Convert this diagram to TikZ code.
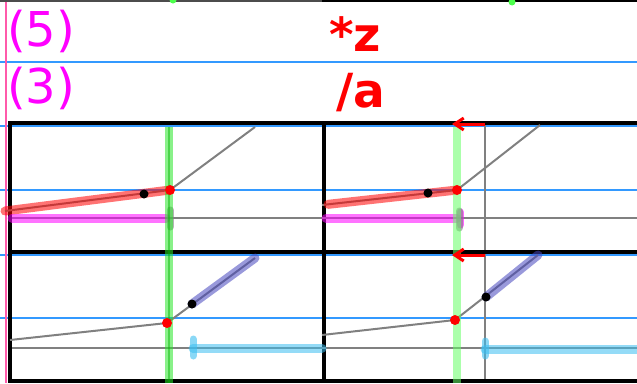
\documentclass[tikz,border=0pt]{standalone}
\usepackage{fontspec}
\setmainfont{DejaVu Sans}
\usepackage{xcolor}
\usepackage{tikz}
\usetikzlibrary{calc, arrows.meta}

\definecolor{guideblue}{RGB}{51,153,255}
\definecolor{marginpink}{RGB}{255,90,170}
\definecolor{pmag}{RGB}{255,0,255}
\definecolor{pred}{RGB}{255,0,0}
\definecolor{bandblue}{RGB}{70,70,190}
\definecolor{bandcyan}{RGB}{60,190,240}
\definecolor{pgreen}{RGB}{40,230,40}

\begin{document}
\begin{tikzpicture}[x=1pt, y=-1pt,
  guide/.style={guideblue, line width=1.5pt},
  frame/.style={black, line width=4.5pt},
  curve/.style={gray, line width=2pt},
  band/.style={line width=9pt, line cap=round, opacity=.55},
  tick/.style={line width=7pt, line cap=round, opacity=.6},
  cutline/.style={pgreen, line width=8pt, opacity=.55},
  shiftarrow/.style={pred, line width=3pt, -{Straight Barb[length=9pt,width=12pt]}},
  bigtext/.style={font=\fontsize{48}{56}\selectfont, inner sep=0pt, anchor=base west}]
  \useasboundingbox (0,0) rectangle (637,383);

  % guide lines and margin
  \foreach \y in {62,126,190,255,318}
    \draw[guide] (0,\y) -- (637,\y);
  \draw[marginpink, line width=2.5pt] (6,0) -- (6,383);
  \draw[gray!60!black, line width=2pt] (0,1) -- (322,1);
  \draw[black, line width=2pt] (322,1) -- (637,1);
  \fill[green!70] (173,0) circle (3.5);
  \fill[green!70] (512,2) circle (3.5);

  % labels
  \node[bigtext, pmag] (five) at (7,46) {(5)};
  \node[bigtext, pmag] (three) at (7,103) {(3)};
  \node[bigtext, pred, font=\fontsize{47}{56}\selectfont\bfseries] (opz) at (329,51) {*z};
  \node[bigtext, pred, font=\fontsize{47}{56}\selectfont\bfseries] (opa) at (336,107) {/a};

  % points of the curves
  \coordinate (a1) at (5,211);   \coordinate (k1) at (170,190);
  \coordinate (b1) at (144,194); \coordinate (e1) at (255,127);
  \coordinate (a2) at (322,205); \coordinate (k2) at (457,190);
  \coordinate (b2) at (428,193); \coordinate (e2) at (540,125);
  \coordinate (a3) at (10,340);  \coordinate (k3) at (167,323);
  \coordinate (b3) at (192,304); \coordinate (e3) at (255,258);
  \coordinate (a4) at (322,335); \coordinate (k4) at (455,320);
  \coordinate (b4) at (486,297); \coordinate (e4) at (538,255);

  % right hand cut
  \draw[gray, line width=1.5pt] (485,124) -- (485,383);

  % frames
  \draw[frame] (10,381) -- (10,123) -- (637,123);
  \draw[frame] (8,252) -- (637,252);
  \draw[frame] (8,381) -- (637,381);
  \draw[frame] (324,123) -- (324,383);

  % curves
  \draw[curve] (a1) -- (k1) -- (e1);
  \draw[curve] (a2) -- (k2) -- (e2);
  \draw[curve] (a3) -- (k3) -- (e3);
  \draw[curve] (a4) -- (k4) -- (e4);
  \draw[curve] (12,218) -- (637,218);
  \draw[curve] (12,348) -- (637,348);

  % bands
  \draw[band, pred] (a1) -- (k1);
  \draw[band, pred] ($(a2)!.045!(k2)$) -- (k2);
  \draw[band, pmag] (12,218) -- (166,218);
  \draw[band, pmag] (326,218) -- (457,218);
  \draw[tick, pmag] (460,212) -- (460,225);
  \draw[tick, gray] (170,210) -- (170,227);
  \draw[tick, gray] (459,211) -- (459,228);
  \draw[band, bandblue] (b3) -- (e3);
  \draw[band, bandblue] (b4) -- (e4);
  \draw[band, bandcyan] (193,348) -- (322,348);
  \draw[band, bandcyan] (485,349) -- (637,349);
  \draw[tick, bandcyan] (193,339) -- (193,356);
  \draw[tick, bandcyan] (485,341) -- (485,356);

  % vertical cuts
  \draw[cutline] (169,127) -- (169,383);
  \draw[green!70!black, line width=2.5pt, opacity=.45] (169,127) -- (169,383);
  \draw[cutline, green!60] (457,127) -- (457,383);

  % shifts
  \draw[shiftarrow] (485,124) -- (452,124);
  \draw[shiftarrow] (485,255) -- (452,255);

  % dots
  \foreach \p in {b1,b2,b3,b4}
    \fill[black] (\p) circle (4.5);
  \foreach \p in {k1,k2,k3,k4}
    \fill[pred] (\p) circle (5);
\end{tikzpicture}
\end{document}
